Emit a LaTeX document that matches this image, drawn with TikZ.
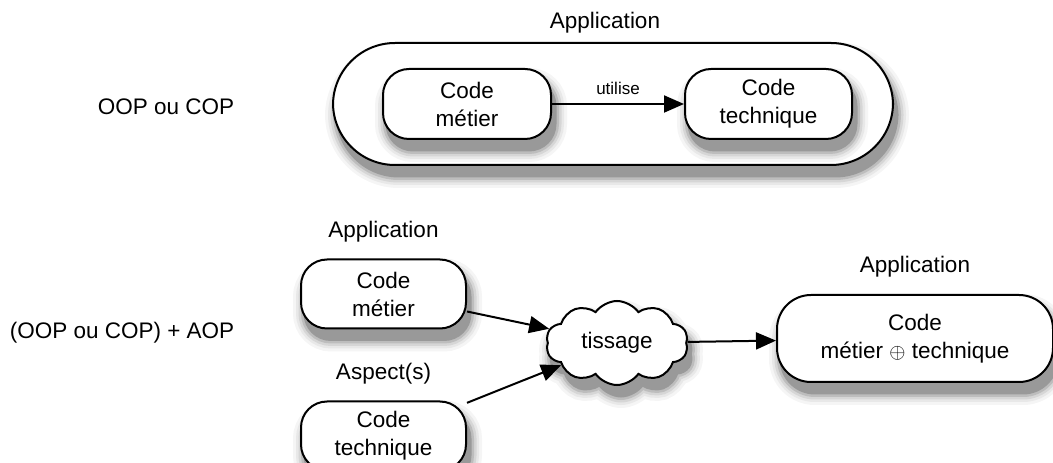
\documentclass[tikz,border=0pt]{standalone}
\usepackage{fontspec}
\setmainfont{Liberation Sans}
\usetikzlibrary{positioning, arrows.meta, shapes.symbols, shadows}

\tikzset{
  every node/.style={font=\fontsize{22.5}{28}\selectfont},
  soft/.style 2 args={drop shadow={shadow xshift=4pt, shadow yshift=-11pt, opacity=1,
    fill=black!#1, draw=black!#1, line width=#2}},
  shade box/.style={fill=white, line width=2pt, draw,
    soft={4}{24pt}, soft={9}{18pt}, soft={16}{13pt}, soft={26}{8pt}, soft={40}{3pt}},
  codebox/.style={shade box, rounded corners=26pt, align=center, inner sep=0pt,
    minimum width=165pt, minimum height=69pt},
}

\begin{document}
\begin{tikzpicture}[x=1pt, y=1pt, > = {Triangle[length=20pt, width=17pt]}, line width=2pt]
    \useasboundingbox (0,0) rectangle (1053,463);

    % OOP ou COP
    \node (oop) at (166,356) {OOP ou COP};
    \node[shade box, rounded corners=62pt, minimum width=560pt, minimum height=122pt] (app) at (613,359) {};
    \node (appname) at (605,440) {Application};
    \node[codebox, minimum width=168pt, minimum height=70pt] (metier) at (467,359) {Code\\métier};
    \node[codebox, minimum width=167pt, minimum height=70pt, right=132pt of metier] (tech) {Code\\technique};
    \path[->] (metier) edge node[above=5pt, font=\fontsize{17}{20}\selectfont] {utilise} (tech);

    % (OOP ou COP) + AOP
    \node (aop) at (122,130) {(OOP ou COP) + AOP};
    \node[codebox] (metier2) at (383.5,169) {Code\\métier};
    \node (appname2) [above=12pt of metier2] {Application};
    \node[codebox] (tech2) at (383.5,27) {Code\\technique};
    \node (aspect) [above=12pt of tech2] {Aspect(s)};
    \node[shade box, cloud, cloud puffs=10, cloud puff arc=110, aspect=1.7,
          minimum width=142pt, minimum height=84pt, inner sep=0pt] (tiss) at (617,120) {tissage};
    \node[codebox, rounded corners=34pt, minimum width=276pt, minimum height=87pt] (final) at (915,124.5) {Code\\métier $\oplus$ technique};
    \node (appname3) [above=12pt of final] {Application};

    \draw[->] (metier2) -- (tiss);
    \draw[->] (tech2) -- (tiss);
    \draw[->] (tiss) -- (final);
\end{tikzpicture}
\end{document}
